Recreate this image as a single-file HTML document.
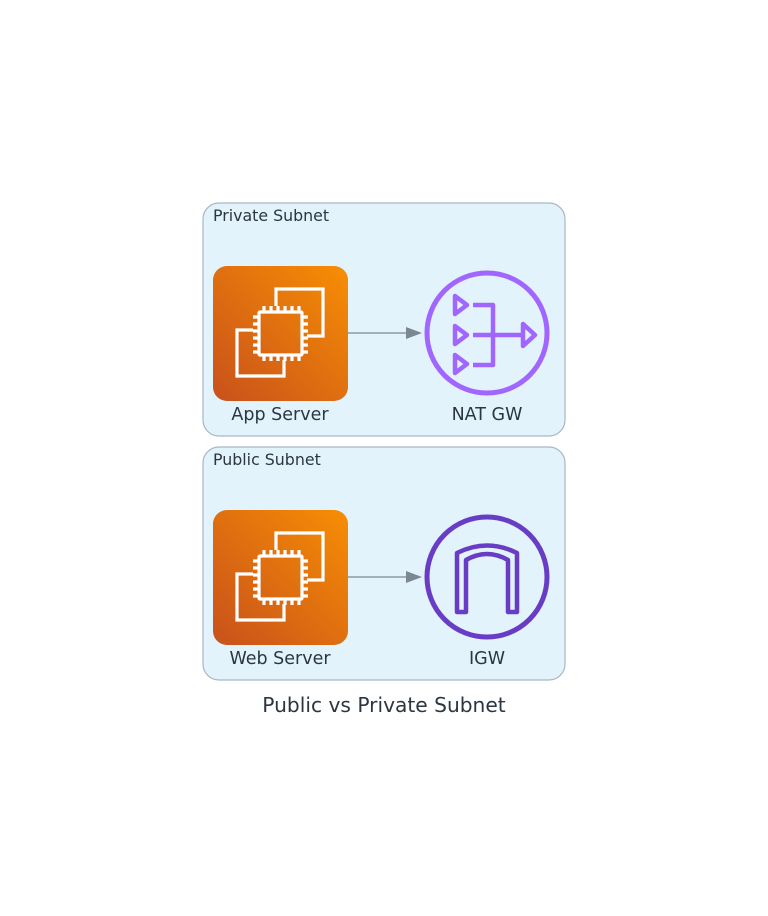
<!DOCTYPE html>
<html><head><meta charset="utf-8"><style>
html,body{margin:0;padding:0;background:#fff;}
svg{display:block;}
text{font-family:"DejaVu Sans","Liberation Sans",sans-serif;fill:#2b3640;}
</style></head><body>
<svg width="768" height="916" viewBox="0 0 768 916" xmlns="http://www.w3.org/2000/svg">
<defs>
<linearGradient id="g" x1="0" y1="1" x2="1" y2="0">
<stop offset="0" stop-color="#C8511B"/><stop offset="1" stop-color="#F78E04"/>
</linearGradient>
<g id="ec2">
<rect x="0" y="0" width="135" height="135" rx="14" fill="url(#g)"/>
<g fill="none" stroke="#fff" stroke-width="3.2">
<path d="M63 40 V23 H110 V70 H94"/>
<path d="M40 64 H24 V110 H71 V94"/>
<rect x="46" y="46" width="43" height="43" rx="1"/>
<path d="M51 46v-6M58 46v-6M65 46v-6M72 46v-6M79 46v-6M86 46v-6 M51 89v6M58 89v6M65 89v6M72 89v6M79 89v6M86 89v6 M46 51h-6M46 58h-6M46 65h-6M46 72h-6M46 79h-6M46 86h-6 M89 51h6M89 58h6M89 65h6M89 72h6M89 79h6M89 86h6"/>
</g>
</g>
</defs>
<rect x="203" y="203" width="362" height="233" rx="16" fill="#E3F3FC" stroke="#A9B6C4" stroke-width="1.2"/>
<rect x="203" y="447" width="362" height="233" rx="16" fill="#E3F3FC" stroke="#A9B6C4" stroke-width="1.2"/>
<text x="213" y="221" font-size="15.8">Private Subnet</text>
<text x="213" y="465" font-size="15.8">Public Subnet</text>
<g transform="translate(213,266)"><use href="#ec2"/></g>
<g transform="translate(213,510)"><use href="#ec2"/></g>
<g stroke="#7B8894" stroke-width="1.3"><line x1="348" y1="333" x2="408" y2="333"/><line x1="348" y1="577" x2="408" y2="577"/></g>
<path d="M406 327 L422 333 L406 339Z" fill="#7B8894"/>
<path d="M406 571 L422 577 L406 583Z" fill="#7B8894"/>
<circle cx="487" cy="333" r="60" fill="none" stroke="#A166FF" stroke-width="5"/>
<g fill="none" stroke="#A166FF" stroke-width="4.5" stroke-linejoin="round">
<path d="M455 296 L467 305 L455 314Z"/>
<path d="M455 326 L467 335 L455 344Z"/>
<path d="M455 355 L467 364 L455 373Z"/>
<path d="M473 305 H493 V365 H473"/>
<path d="M473 335 H521"/>
<path d="M523 324 L535 335 L523 346Z"/>
</g>
<circle cx="487" cy="577" r="60" fill="none" stroke="#693CC5" stroke-width="5"/>
<path d="M457 612 V553 Q487 538 517 553 V612 H508 V560 Q487 548 466 560 V612Z" fill="none" stroke="#693CC5" stroke-width="4.5" stroke-linejoin="round"/>
<g font-size="17.5" text-anchor="middle">
<text x="280" y="420">App Server</text>
<text x="487" y="420">NAT GW</text>
<text x="280" y="664">Web Server</text>
<text x="487" y="664">IGW</text>
</g>
<text x="384" y="712" font-size="20.2" text-anchor="middle">Public vs Private Subnet</text>
</svg>
</body></html>
